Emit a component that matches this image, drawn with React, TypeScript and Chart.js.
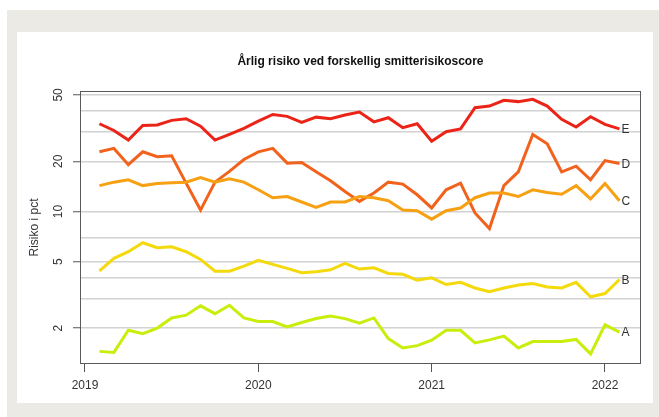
import React, { useEffect, useRef } from "react";
import { Chart, registerables } from "chart.js";

Chart.register(...registerables);

const TITLE = "Årlig risiko ved forskellig smitterisikoscore";
const Y_TITLE = "Risiko i pct";

const months = [
  "2019-02", "2019-03", "2019-04", "2019-05", "2019-06", "2019-07", "2019-08", "2019-09", "2019-10", "2019-11", "2019-12",
  "2020-01", "2020-02", "2020-03", "2020-04", "2020-05", "2020-06", "2020-07", "2020-08", "2020-09", "2020-10", "2020-11", "2020-12",
  "2021-01", "2021-02", "2021-03", "2021-04", "2021-05", "2021-06", "2021-07", "2021-08", "2021-09", "2021-10", "2021-11", "2021-12",
  "2022-01", "2022-02",
];

const seriesE = [33.6, 30.6, 26.8, 32.8, 33.0, 35.2, 36.0, 32.5, 26.8, 29.0, 31.5, 34.8, 38.2, 37.2, 34.2, 36.8, 36.0, 37.9, 39.5, 34.5, 36.5, 31.8, 33.6, 26.4, 30.1, 31.3, 41.9, 42.9, 46.4, 45.6, 47.1, 42.9, 35.7, 32.1, 37.0, 33.3, 31.3];
const seriesD = [22.8, 23.9, 19.1, 22.8, 21.3, 21.6, 14.8, 10.2, 15.0, 17.4, 20.5, 22.8, 23.9, 19.5, 19.7, 17.3, 15.3, 13.2, 11.5, 12.9, 15.0, 14.6, 12.6, 10.5, 13.5, 14.8, 9.8, 7.9, 14.3, 17.3, 29.0, 25.5, 17.3, 18.7, 15.5, 20.2, 19.4];
const seriesC = [14.3, 15.0, 15.5, 14.3, 14.7, 14.9, 15.0, 16.0, 15.0, 15.7, 15.0, 13.5, 12.1, 12.3, 11.4, 10.6, 11.4, 11.4, 12.3, 12.1, 11.6, 10.2, 10.1, 9.0, 10.1, 10.5, 12.1, 12.9, 12.9, 12.3, 13.5, 13.0, 12.7, 14.3, 11.9, 14.7, 11.6];
const seriesB = [4.41, 5.24, 5.74, 6.5, 6.07, 6.15, 5.74, 5.16, 4.39, 4.39, 4.71, 5.09, 4.82, 4.56, 4.29, 4.35, 4.47, 4.89, 4.52, 4.6, 4.25, 4.2, 3.88, 4.0, 3.65, 3.76, 3.48, 3.3, 3.48, 3.62, 3.7, 3.53, 3.48, 3.76, 3.08, 3.22, 3.91];
const seriesA = [1.45, 1.43, 1.94, 1.85, 2.0, 2.3, 2.39, 2.72, 2.44, 2.74, 2.3, 2.19, 2.19, 2.03, 2.16, 2.28, 2.36, 2.28, 2.14, 2.3, 1.73, 1.52, 1.57, 1.69, 1.94, 1.94, 1.63, 1.7, 1.79, 1.52, 1.66, 1.66, 1.66, 1.71, 1.4, 2.09, 1.89];

const seriesNames = ["A", "B", "C", "D", "E"];
const seriesColors = ["#c8ee0c", "#f4d90c", "#f6a012", "#f2621c", "#ec2418"];
const seriesValues = [seriesA, seriesB, seriesC, seriesD, seriesE];

const xTicks = [2019, 2020, 2021, 2022];
const yGridValues = [2, 3, 4, 5, 7, 10, 20, 30, 40, 50];
const yLabelValues = [2, 5, 10, 20, 50];

const FONT = '"Liberation Sans", Arial, Helvetica, sans-serif';

function monthToX(m: string): number {
  const [y, mo] = m.split("-").map(Number);
  return y + (mo - 1) / 12;
}

const annotPlugin = {
  id: "annot",
  afterDraw(chart: any) {
    const { ctx, chartArea: a, scales } = chart;
    const x = scales.x;
    const y = scales.y;
    ctx.save();
    // box
    ctx.strokeStyle = "#5a5a5a";
    ctx.lineWidth = 1;
    ctx.strokeRect(Math.round(a.left) + 0.5, Math.round(a.top) + 0.5, Math.round(a.right - a.left) - 1, Math.round(a.bottom - a.top) - 1);
    // y tick labels (rotated)
    ctx.fillStyle = "#333";
    ctx.font = `12px ${FONT}`;
    ctx.textAlign = "center";
    ctx.textBaseline = "middle";
    yLabelValues.forEach((v) => {
      const py = y.getPixelForValue(v);
      ctx.save();
      ctx.translate(a.left - 21, py);
      ctx.rotate(-Math.PI / 2);
      ctx.fillText(String(v), 0, 0);
      ctx.restore();
    });
    // y axis title
    ctx.save();
    ctx.translate(18, (a.top + a.bottom) / 2);
    ctx.rotate(-Math.PI / 2);
    ctx.fillText(Y_TITLE, 0, 0);
    ctx.restore();
    // title
    ctx.font = `bold 12px ${FONT}`;
    ctx.fillStyle = "#111";
    ctx.fillText(TITLE, (a.left + a.right) / 2, 30);
    // end labels
    ctx.font = `12px ${FONT}`;
    ctx.fillStyle = "#333";
    ctx.textAlign = "left";
    chart.data.datasets.forEach((ds: any) => {
      const last = ds.data[ds.data.length - 1];
      const px = x.getPixelForValue(last.x) + 2;
      const py = y.getPixelForValue(last.y);
      ctx.fillText(ds.label, px, py + 1);
    });
    ctx.restore();
  },
};

export default function App() {
  const ref = useRef<HTMLCanvasElement | null>(null);

  useEffect(() => {
    if (!ref.current) return;
    const xs = months.map(monthToX);
    const chart = new Chart(ref.current, {
      type: "line",
      data: {
        datasets: seriesNames.map((name, i) => ({
          label: name,
          data: seriesValues[i].map((v, j) => ({ x: xs[j], y: v })),
          borderColor: seriesColors[i],
          backgroundColor: seriesColors[i],
          borderWidth: 3,
          pointRadius: 0,
          tension: 0,
          fill: false,
        })),
      },
      options: {
        animation: false,
        responsive: false,
        maintainAspectRatio: false,
        layout: { padding: { top: 59, right: 12, left: 0, bottom: 0 } },
        plugins: {
          legend: { display: false },
          title: { display: false },
          tooltip: { enabled: false },
        },
        scales: {
          x: {
            type: "linear",
            min: 2018.9712,
            max: 2022.2077,
            afterBuildTicks: (s: any) => {
              s.ticks = xTicks.map((v) => ({ value: v }));
            },
            afterFit: (s: any) => {
              s.height = 39;
            },
            grid: {
              display: true,
              drawOnChartArea: false,
              drawTicks: true,
              tickLength: 8,
              tickColor: "#555",
              tickWidth: 1,
            },
            border: { display: false },
            ticks: {
              autoSkip: false,
              maxRotation: 0,
              minRotation: 0,
              padding: 6,
              color: "#333",
              font: { family: FONT, size: 12 },
              callback: (v: any) => String(v),
            },
          },
          y: {
            type: "logarithmic",
            min: 1.218,
            max: 52.8,
            afterBuildTicks: (s: any) => {
              s.ticks = yGridValues.map((v) => ({ value: v }));
            },
            afterFit: (s: any) => {
              s.width = 63;
            },
            grid: {
              display: true,
              drawOnChartArea: true,
              color: "#d2d2d2",
              lineWidth: 1.5,
              drawTicks: true,
              tickLength: 7,
              tickWidth: 1,
              tickColor: (c: any) => (c.tick && yLabelValues.includes(c.tick.value) ? "#555" : "rgba(0,0,0,0)"),
            },
            border: { display: false },
            ticks: { display: false },
          },
        },
      },
      plugins: [annotPlugin],
    });
    return () => chart.destroy();
  }, []);

  return (
    <div style={{ position: "fixed", left: 0, top: 0, width: 659, height: 417, background: "#fff", overflow: "hidden" }}>
      <div style={{ position: "absolute", left: 7, top: 10, right: 0, bottom: 0, background: "#ebeae5" }} />
      <div style={{ position: "absolute", left: 17, top: 32, width: 636, height: 371, background: "#fff" }}>
        <canvas ref={ref} width={636} height={371} style={{ display: "block", width: 636, height: 371 }} />
      </div>
    </div>
  );
}
